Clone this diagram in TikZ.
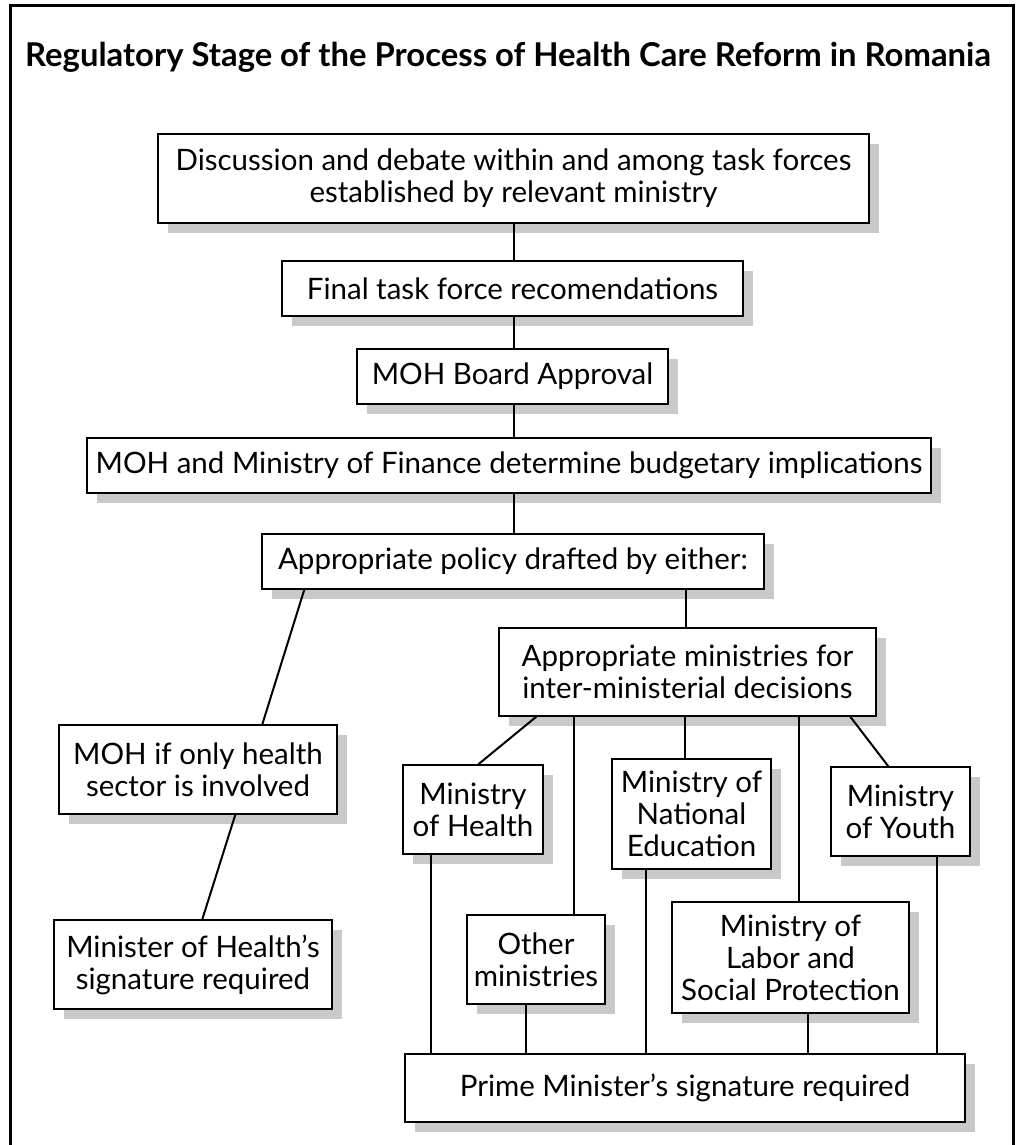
\documentclass[tikz,border=0pt]{standalone}
\usepackage{fontspec}
\setmainfont{Lato}
\usetikzlibrary{shadows}
\tikzset{
  box/.style={draw=black, line width=1.4pt, fill=white, align=center, inner sep=0pt,
    font=\fontsize{29.5}{32}\selectfont,
    drop shadow={shadow xshift=10pt, shadow yshift=-10pt, fill=black!21, opacity=1, draw=none}},
  conn/.style={line width=2pt, line cap=butt},
  frame/.style={line width=3pt},
}
\begin{document}
\begin{tikzpicture}[x=1pt, y=-1pt]
\useasboundingbox (0,0) rectangle (1016,1145);
\draw[frame] (10,1145) -- (10,6) -- (1013,6) -- (1013,1145);
\node[font=\bfseries\fontsize{32.8}{38}\selectfont, anchor=base] (title) at (508,67)
  {Regulatory Stage of the Process of Health Care Reform in Romania};

\node[box, minimum width=711pt, minimum height=89pt] (b1) at (513.5,178.5)
  {Discussion and debate within and among task forces\\established by relevant ministry};
\node[box, minimum width=461pt, minimum height=55pt] (b2) at (512.5,288.5)
  {Final task force recomendations};
\node[box, minimum width=311pt, minimum height=55pt] (b3) at (512.5,376.5)
  {MOH Board Approval};
\node[box, minimum width=844pt, minimum height=55pt] (b4) at (509,465.5)
  {MOH and Ministry of Finance determine budgetary implications};
\node[box, minimum width=502pt, minimum height=55pt] (b5) at (513,561.5)
  {Appropriate policy drafted by either:};
\node[box, minimum width=377pt, minimum height=88pt] (b6) at (687.5,672)
  {Appropriate ministries for\\inter-ministerial decisions};
\node[box, minimum width=278pt, minimum height=89pt] (b7) at (198,769.5)
  {MOH if only health\\sector is involved};
\node[box, minimum width=278pt, minimum height=89pt] (b8) at (193,964.5)
  {Minister of Health’s\\signature required};
\node[box, minimum width=140pt, minimum height=89pt] (mh) at (473,809.5)
  {Ministry\\of Health};
\node[box, minimum width=138pt, minimum height=89pt] (oth) at (536,959.5)
  {Other\\ministries};
\node[box, minimum width=159pt, minimum height=110pt] (mne) at (691.5,814)
  {Ministry of\\National\\Education};
\node[box, minimum width=139pt, minimum height=89pt] (my) at (900.5,811.5)
  {Ministry\\of Youth};
\node[box, minimum width=237pt, minimum height=111pt] (mlsp) at (790.5,957.5)
  {Ministry of\\Labor and\\Social Protection};
\node[box, minimum width=560pt, minimum height=68pt] (pm) at (685,1088)
  {Prime Minister’s signature required};

\coordinate (cx) at (514,0);
\draw[conn] (b1.south -| cx) -- (b2.north -| cx);
\draw[conn] (b2.south -| cx) -- (b3.north -| cx);
\draw[conn] (b3.south -| cx) -- (b4.north -| cx);
\draw[conn] (b4.south -| cx) -- (b5.north -| cx);

\draw[conn] ([xshift=43pt]b5.south west) -- ([xshift=204pt]b7.north west);
\coordinate (c686) at (686,0);
\draw[conn] (b5.south -| c686) -- (b6.north -| c686);
\draw[conn] ([xshift=177pt]b7.south west) -- ([xshift=149pt]b8.north west);

\draw[conn] ([xshift=38pt]b6.south west) -- ([xshift=76pt]mh.north west);
\coordinate (c574) at (574,0);
\coordinate (c685) at (685,0);
\coordinate (c799) at (799,0);
\draw[conn] (b6.south -| c574) -- (oth.north -| c574);
\draw[conn] (b6.south -| c685) -- (mne.north -| c685);
\draw[conn] (b6.south -| c799) -- (mlsp.north -| c799);
\draw[conn] ([xshift=352pt]b6.south west) -- ([xshift=58pt]my.north west);

\coordinate (c431) at (431,0);
\coordinate (c526) at (526,0);
\coordinate (c646) at (646,0);
\coordinate (c808) at (808,0);
\coordinate (c937) at (937,0);
\draw[conn] (mh.south -| c431) -- (pm.north -| c431);
\draw[conn] (oth.south -| c526) -- (pm.north -| c526);
\draw[conn] (mne.south -| c646) -- (pm.north -| c646);
\draw[conn] (mlsp.south -| c808) -- (pm.north -| c808);
\draw[conn] (my.south -| c937) -- (pm.north -| c937);
\end{tikzpicture}
\end{document}
